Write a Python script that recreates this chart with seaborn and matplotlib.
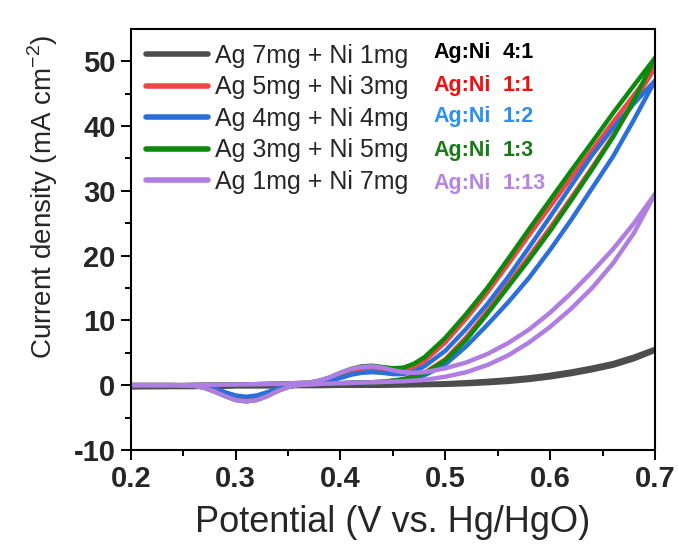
import numpy as np
import pandas as pd
import matplotlib
matplotlib.use("Agg")
import matplotlib.pyplot as plt
from matplotlib.lines import Line2D
import seaborn as sns

# ---------------- data ----------------
samples = ["Ag 7mg + Ni 1mg", "Ag 5mg + Ni 3mg", "Ag 4mg + Ni 4mg",
           "Ag 3mg + Ni 5mg", "Ag 1mg + Ni 7mg"]
ratios = ["4:1", "1:1", "1:2", "1:3", "1:13"]

v_fwd = [0.20, 0.25, 0.30, 0.34, 0.37, 0.38, 0.39, 0.40, 0.41, 0.42, 0.43, 0.44,
         0.45, 0.46, 0.47, 0.48, 0.50, 0.52, 0.54, 0.56, 0.58, 0.60, 0.62, 0.64,
         0.66, 0.68, 0.70]
v_rev = [0.70, 0.68, 0.66, 0.64, 0.62, 0.60, 0.58, 0.56, 0.54, 0.52, 0.50, 0.48,
         0.46, 0.44, 0.42, 0.40, 0.38, 0.36, 0.35, 0.34, 0.33, 0.32, 0.31, 0.30,
         0.29, 0.28, 0.27, 0.26, 0.24, 0.20]

j_fwd_41 = [-0.2, -0.1, 0.0, 0.0, 0.0, 0.0, 0.0, 0.0, 0.0, 0.05, 0.05, 0.1,
            0.1, 0.1, 0.15, 0.2, 0.3, 0.45, 0.65, 0.9, 1.2, 1.6, 2.1, 2.7,
            3.4, 4.4, 5.6]
j_rev_41 = [5.3, 4.0, 3.0, 2.3, 1.7, 1.2, 0.8, 0.5, 0.3, 0.15, 0.05, 0.0,
            -0.05, -0.1, -0.1, -0.1, -0.15, -0.15, -0.15, -0.2, -0.2, -0.2, -0.2, -0.2,
            -0.25, -0.25, -0.25, -0.3, -0.3, -0.35]

j_fwd_11 = [0.0, 0.0, 0.1, 0.2, 0.3, 0.5, 0.9, 1.4, 1.9, 2.2, 2.3, 2.2,
            2.0, 2.1, 2.7, 3.7, 6.6, 10.3, 14.3, 18.7, 23.2, 27.6, 32.0, 36.3,
            40.6, 44.8, 49.0]
j_rev_11 = [49.0, 43.7, 38.5, 33.6, 28.9, 24.3, 19.9, 15.6, 11.4, 7.4, 4.0, 1.9,
            0.9, 0.5, 0.4, 0.3, 0.2, 0.0, -0.2, -0.7, -1.3, -1.8, -2.0, -1.8,
            -1.3, -0.7, -0.3, -0.1, 0.0, 0.0]

j_fwd_12 = [0.0, 0.0, 0.1, 0.2, 0.3, 0.4, 0.7, 1.1, 1.6, 1.9, 2.0, 1.9,
            1.7, 1.7, 2.1, 2.9, 5.3, 8.7, 12.5, 16.7, 21.3, 26.0, 30.8, 35.5,
            39.7, 43.5, 47.0]
j_rev_12 = [47.0, 41.0, 35.3, 30.4, 25.5, 20.9, 16.6, 12.8, 9.3, 6.0, 3.2, 1.5,
            0.8, 0.5, 0.4, 0.3, 0.2, 0.1, -0.1, -0.5, -1.1, -1.6, -1.8, -1.6,
            -1.1, -0.5, -0.2, -0.1, 0.0, 0.0]

j_fwd_13 = [0.0, 0.0, 0.1, 0.2, 0.4, 0.7, 1.2, 1.9, 2.5, 2.9, 3.0, 2.8,
            2.6, 2.7, 3.3, 4.3, 7.3, 11.0, 15.0, 19.5, 24.1, 28.6, 33.1, 37.5,
            42.0, 46.3, 50.5]
j_rev_13 = [50.5, 44.0, 38.3, 33.3, 28.5, 23.8, 19.4, 15.2, 11.0, 7.0, 3.8, 1.8,
            0.9, 0.5, 0.4, 0.3, 0.2, 0.0, -0.3, -0.9, -1.7, -2.3, -2.5, -2.3,
            -1.7, -1.0, -0.4, -0.1, 0.0, 0.0]

j_fwd_113 = [0.0, 0.0, 0.1, 0.2, 0.4, 0.7, 1.2, 1.9, 2.5, 2.8, 2.9, 2.7,
             2.3, 2.0, 1.9, 2.0, 2.6, 3.5, 4.8, 6.5, 8.6, 11.2, 14.2, 17.5,
             21.0, 25.0, 29.5]
j_rev_113 = [29.5, 23.5, 18.8, 15.0, 11.8, 9.0, 6.6, 4.6, 3.1, 2.0, 1.3, 0.8,
             0.6, 0.5, 0.4, 0.3, 0.2, 0.0, -0.3, -0.9, -1.7, -2.3, -2.5, -2.3,
             -1.7, -1.0, -0.4, -0.1, 0.0, 0.0]

fwd = [j_fwd_41, j_fwd_11, j_fwd_12, j_fwd_13, j_fwd_113]
rev = [j_rev_41, j_rev_11, j_rev_12, j_rev_13, j_rev_113]

line_colors = ["#4d4d4d", "#f04646", "#2a6fdc", "#0b8a0b", "#b07ee2"]
text_colors = ["#000000", "#ee1111", "#2f8ff0", "#1a7a1a", "#b585e0"]

rows = []
for name, jf, jr in zip(samples, fwd, rev):
    for k, (v, j) in enumerate(zip(v_fwd, jf)):
        rows.append((name, "fwd", k, v, j))
    for k, (v, j) in enumerate(zip(v_rev, jr)):
        rows.append((name, "rev", k, v, j))
df = pd.DataFrame(rows, columns=["sample", "branch", "order", "E", "j"])

# ---------------- style ----------------
sns.set_style("ticks")
plt.rcParams["font.family"] = ["Liberation Sans", "DejaVu Sans"]
plt.rcParams["mathtext.fontset"] = "custom"
plt.rcParams["mathtext.rm"] = "Liberation Sans"
plt.rcParams["axes.unicode_minus"] = False

fig = plt.figure(figsize=(6.78, 5.46), dpi=100)
ax = fig.add_axes([0.193, 0.176, 0.773, 0.771])

sns.lineplot(data=df, x="E", y="j", hue="sample", units="branch",
             estimator=None, sort=False, hue_order=samples,
             palette=line_colors, linewidth=3.2, legend=False, ax=ax)

ax.set_xlim(0.2, 0.7)
ax.set_ylim(-10, 55)
ax.set_xticks([0.2, 0.3, 0.4, 0.5, 0.6, 0.7])
ax.set_yticks([-10, 0, 10, 20, 30, 40, 50])
ax.set_xticks(np.arange(0.25, 0.7, 0.1), minor=True)
ax.set_yticks(np.arange(-5, 55, 10), minor=True)
ax.tick_params(which="major", direction="out", length=7, width=1.4,
               labelsize=21, top=False, right=False, color="black", pad=4)
ax.tick_params(which="minor", direction="out", length=4, width=1.4,
               top=False, right=False, color="black")
for lab in ax.get_xticklabels() + ax.get_yticklabels():
    lab.set_fontweight("bold")
for s in ax.spines.values():
    s.set_linewidth(1.5)
    s.set_color("black")

ax.set_xlabel("Potential (V vs. Hg/HgO)", fontsize=26)
ax.xaxis.set_label_coords(0.5, -0.13)
ax.set_ylabel("Current density (mA cm$^{-2}$)", fontsize=20)
ax.yaxis.set_label_coords(-0.135, 0.6)

handles = [Line2D([0], [0], color=c, lw=4) for c in line_colors]
leg = ax.legend(handles, samples, loc="upper left", frameon=False,
                fontsize=18, handlelength=2.5, handletextpad=0.28,
                labelspacing=0.3, borderaxespad=0.2,
                bbox_to_anchor=(0.0, 1.0))

row_y = [0.944, 0.865, 0.791, 0.712, 0.633]
for y, r, c in zip(row_y, ratios, text_colors):
    ax.text(0.578, y, "Ag:Ni", color=c, fontsize=15.5, fontweight="bold",
            transform=ax.transAxes, va="center", ha="left")
    ax.text(0.71, y, r, color=c, fontsize=15.5, fontweight="bold",
            transform=ax.transAxes, va="center", ha="left")

fig.savefig("out.png", dpi=100)
